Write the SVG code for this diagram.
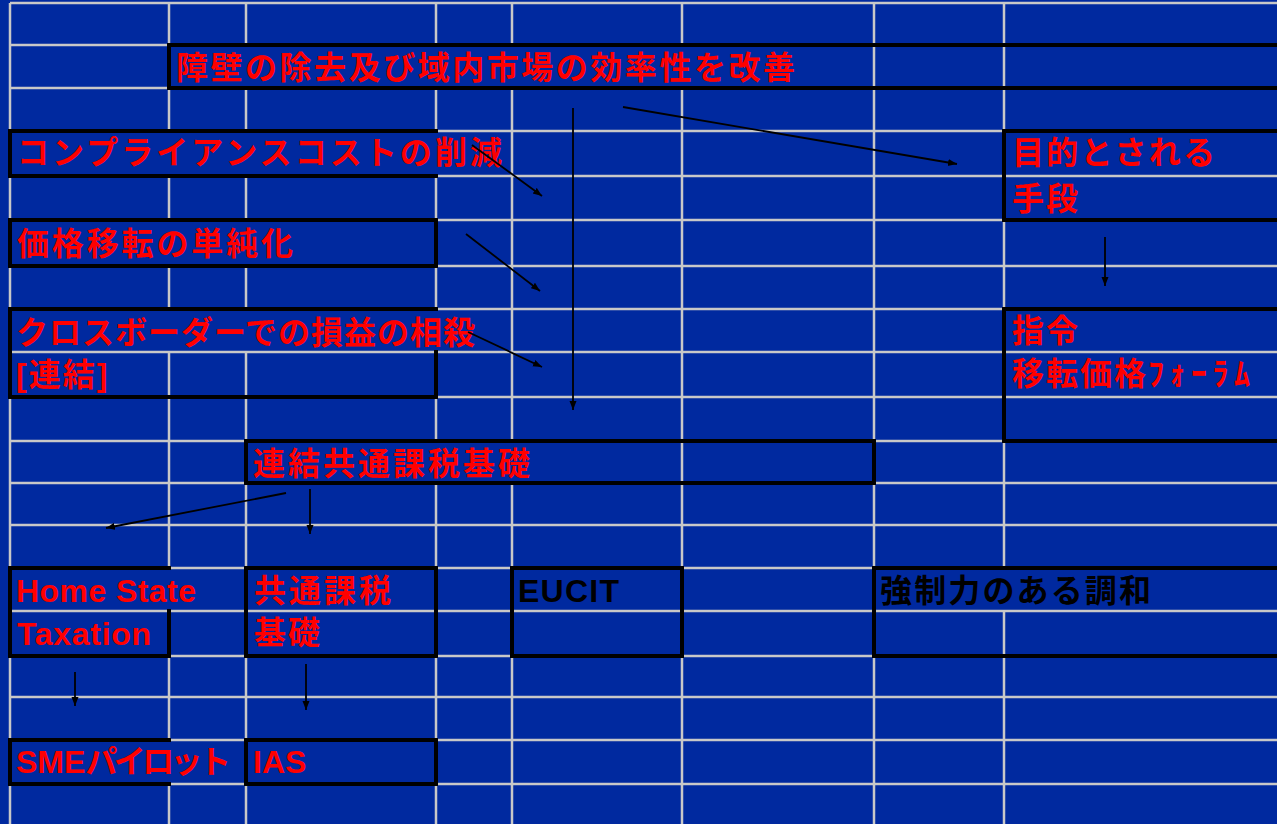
<svg xmlns="http://www.w3.org/2000/svg" width="1277" height="824" viewBox="0 0 1277 824">
<style>
.grid{stroke:#C8C8C8;stroke-width:2.5;fill:none}
.box{stroke:#000;stroke-width:4;fill:none;stroke-linejoin:miter;stroke-linecap:square}
.t{font-family:'Liberation Sans','Noto Sans CJK JP',sans-serif;font-weight:700;font-size:32px;fill:#FF0000}
.cj{letter-spacing:2px}
.k{fill:#000}
.conn line{stroke:#000;stroke-width:1.8;marker-end:url(#ah)}
</style>
<defs>
<marker id="ah" markerUnits="userSpaceOnUse" markerWidth="10" markerHeight="8" refX="9" refY="3.5" orient="auto">
<path d="M0,0 L9,3.5 L0,7 z" fill="#000"/>
</marker>
</defs>
<rect x="0" y="0" width="1277" height="824" fill="#00299F"/>
<g id="grid" class="grid">
<path d="M10,3 H1277 M10,45 H1277 M10,88 H1277 M10,131 H1277 M10,176 H1277 M10,220 H1277 M10,266 H1277 M10,309 H1277 M10,352 H1277 M10,397 H1277 M10,441 H1277 M10,483 H1277 M10,525 H1277 M10,568 H1277 M10,611 H1277 M10,656 H1277 M10,697 H1277 M10,740 H1277 M10,784 H1277"/>
<path d="M10,3 V824"/>
<path d="M169,3 V131 M169,176 V220 M169,266 V309 M169,352 V568 M169,611 V740 M169,784 V824"/>
<path d="M246,3 V45 M246,88 V131 M246,176 V220 M246,266 V309 M246,352 V824"/>
<path d="M436,3 V45 M436,88 V131 M436,176 V309 M436,352 V441 M436,483 V824"/>
<path d="M512,3 V45 M512,88 V441 M512,483 V824"/>
<path d="M682,3 V45 M682,88 V824"/>
<path d="M874,3 V824"/>
<path d="M1004,3 V568 M1004,611 V824"/>
</g>
<g id="n-barrier">
<path class="box" d="M1279,45 H169 V88 H1279"/>
<text class="t" x="176" y="79" textLength="619" lengthAdjust="spacing">障壁の除去及び域内市場の効率性を改善</text>
</g>
<g id="n-compliance">
<path class="box" d="M436,131 H10 V176 H436"/>
<text class="t" x="17" y="164" textLength="485" lengthAdjust="spacing">コンプライアンスコストの削減</text>
</g>
<g id="n-transfer">
<path class="box" d="M10,220 H436 V266 H10 Z"/>
<text class="t" x="17" y="255" textLength="276" lengthAdjust="spacing">価格移転の単純化</text>
</g>
<g id="n-crossborder">
<path class="box" d="M436,309 H10 V397 H436 V352"/>
<text class="t" x="16" y="344" textLength="459" lengthAdjust="spacing">クロスボーダーでの損益の相殺</text>
<text class="t cj" x="16" y="386">[連結]</text>
</g>
<g id="n-means">
<path class="box" d="M1279,131 H1004 V220 H1279"/>
<text class="t" x="1012" y="164" textLength="203" lengthAdjust="spacing">目的とされる</text>
<text class="t cj" x="1012" y="210">手段</text>
</g>
<g id="n-directive">
<path class="box" d="M1279,309 H1004 V441 H1279"/>
<text class="t cj" x="1012" y="342">指令</text>
<text class="t cj" x="1012" y="385">移転価格<tspan style="letter-spacing:5.5px">ﾌｫｰﾗﾑ</tspan></text>
</g>
<g id="n-ccctb">
<path class="box" d="M246,441 H874 V483 H246 Z"/>
<text class="t" x="253" y="475" textLength="277" lengthAdjust="spacing">連結共通課税基礎</text>
</g>
<g id="n-hst">
<path class="box" d="M169,568 H10 V656 H169 V611"/>
<text class="t" x="16" y="602" textLength="180" lengthAdjust="spacing">Home State</text>
<text class="t" x="17" y="645" textLength="134" lengthAdjust="spacing">Taxation</text>
</g>
<g id="n-cctb">
<path class="box" d="M246,568 H436 V656 H246 Z"/>
<text class="t" x="254" y="602" textLength="137" lengthAdjust="spacing">共通課税</text>
<text class="t cj" x="254" y="644">基礎</text>
</g>
<g id="n-eucit">
<path class="box" d="M512,568 H682 V656 H512 Z"/>
<text class="t k" x="518" y="602" textLength="101" lengthAdjust="spacing">EUCIT</text>
</g>
<g id="n-harmonization">
<path class="box" d="M1279,568 H874 V656 H1279"/>
<text class="t k" x="880" y="602" textLength="271" lengthAdjust="spacing">強制力のある調和</text>
</g>
<g id="n-sme">
<path class="box" d="M169,740 H10 V784 H169"/>
<text class="t" x="16" y="773">SME<tspan style="letter-spacing:-3.6px">パイロット</tspan></text>
</g>
<g id="n-ias">
<path class="box" d="M246,740 H436 V784 H246 Z"/>
<text class="t" x="253" y="773">IAS</text>
</g>
<g id="connectors" class="conn">
<line x1="623" y1="107" x2="957" y2="164"/>
<line x1="573" y1="108" x2="573" y2="410"/>
<line x1="472" y1="145" x2="542" y2="196"/>
<line x1="466" y1="234" x2="540" y2="291"/>
<line x1="468" y1="332" x2="542" y2="367"/>
<line x1="1105" y1="237" x2="1105" y2="286"/>
<line x1="286" y1="493" x2="106" y2="528"/>
<line x1="310" y1="489" x2="310" y2="534"/>
<line x1="75" y1="672" x2="75" y2="706"/>
<line x1="306" y1="664" x2="306" y2="710"/>
</g>
</svg>
